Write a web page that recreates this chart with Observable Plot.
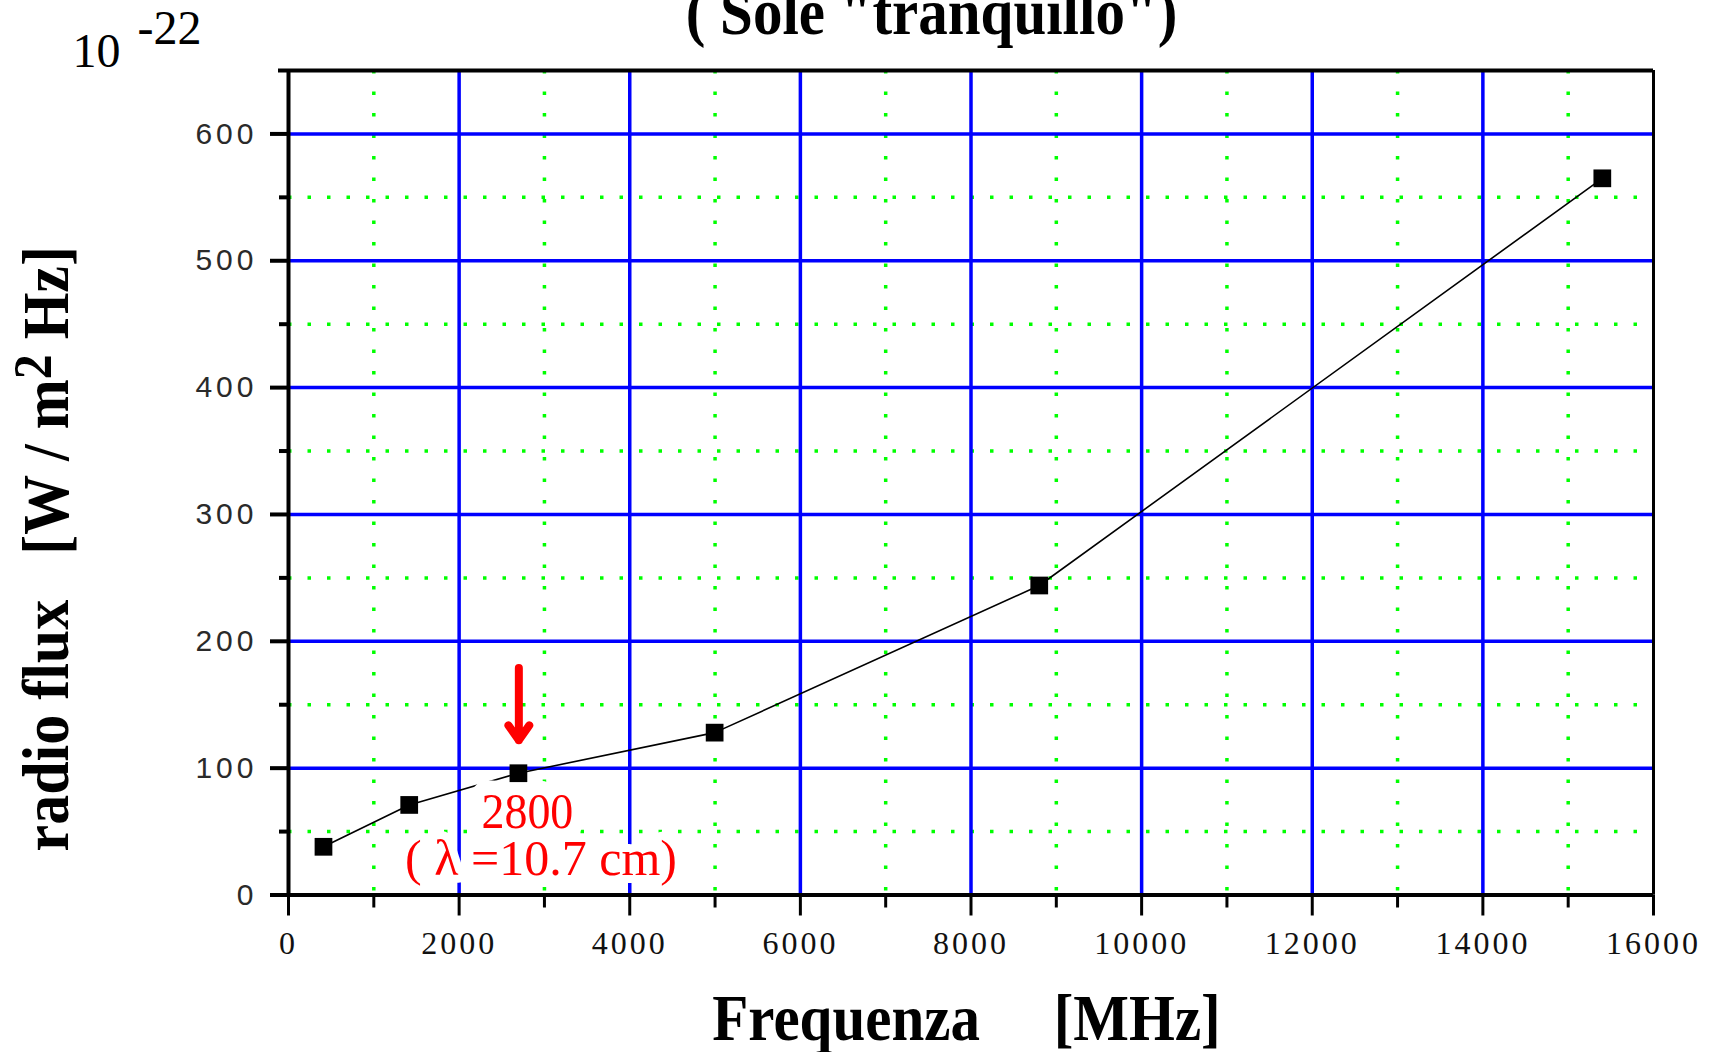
<!DOCTYPE html>
<html>
<head>
<meta charset="utf-8">
<script src="https://cdn.jsdelivr.net/npm/d3@7"></script>
<script src="https://cdn.jsdelivr.net/npm/@observablehq/plot@0.6"></script>
<style>
  html, body { margin: 0; padding: 0; background: #fff; }
  #chart { width: 1721px; height: 1052px; overflow: hidden; }
  #chart svg { display: block; }
  g[aria-label="y-axis tick label"], g[aria-label="y-axis tick label"] text {
    font-family: "Liberation Sans", Arial, sans-serif; font-size: 30px; letter-spacing: 4px; fill: #2a2a2a;
  }
  g[aria-label="x-axis tick label"], g[aria-label="x-axis tick label"] text {
    font-family: "Liberation Serif", "Times New Roman", serif; font-size: 32px; letter-spacing: 3px; fill: #111;
  }
</style>
</head>
<body>
<div id="chart"></div>
<script>
// ---- data ----
const freqMHz = [410, 1415, 2695, 4995, 8800, 15400];
const fluxSFU = [38, 71, 96, 128, 244, 565];

const xDomain = [0, 16000];
const yDomain = [0, 650];
const xMajorTicks = [0, 2000, 4000, 6000, 8000, 10000, 12000, 14000, 16000];
const xMinorTicks = [1000, 3000, 5000, 7000, 9000, 11000, 13000, 15000];
const yMajorTicks = [0, 100, 200, 300, 400, 500, 600];
const yMinorTicks = [50, 150, 250, 350, 450, 550];
const xMajorGrid = [2000, 4000, 6000, 8000, 10000, 12000, 14000];
const yMajorGrid = [100, 200, 300, 400, 500, 600];

const titleText = '( Sole "tranquillo")';
const xTitleText = "Frequenza\u00a0\u00a0\u00a0\u00a0\u00a0[MHz]";
const yTitleParts = ["radio flux\u00a0\u00a0\u00a0[W / m", "2", " Hz]"];
const unitBase = "10";
const unitExp = "-22";

const noteText = ["2800", "( λ =10.7 cm)"];
const noteX = [2800, 2960];
const noteY = [53, 16];
const arrowX = [2700];
const arrowY1 = [179];
const arrowY2 = [122];

// ---- tables built from the arrays ----
const data = freqMHz.map((f, i) => ({f, s: fluxSFU[i]}));
const arrows = arrowX.map((x, i) => ({x, y1: arrowY1[i], y2: arrowY2[i]}));
const note0 = [{x: noteX[0], y: noteY[0], t: noteText[0]}];
const note1 = [{x: noteX[1], y: noteY[1], t: noteText[1]}];
const yTitleText = yTitleParts.join("");

const serif = '"Liberation Serif", "Times New Roman", serif';

const chart = Plot.plot({
  width: 1721,
  height: 1052,
  marginLeft: 288,
  marginRight: 68,
  marginTop: 70,
  marginBottom: 157.5,
  x: {domain: xDomain},
  y: {domain: yDomain},
  style: {fontFamily: serif, background: "white", color: "black"},
  marks: [
    // minor dotted green grid
    Plot.ruleY(yMinorTicks, {stroke: "#00ff00", strokeWidth: 3.5, strokeDasharray: "3.5,16"}),
    Plot.ruleX(xMinorTicks, {stroke: "#00ff00", strokeWidth: 3.5, strokeDasharray: "3.5,18"}),
    // major blue grid
    Plot.ruleY(yMajorGrid, {stroke: "#0000ff", strokeWidth: 3.5}),
    Plot.ruleX(xMajorGrid, {stroke: "#0000ff", strokeWidth: 3.5}),
    // data line
    Plot.line(data, {x: "f", y: "s", stroke: "black", strokeWidth: 1.6}),
    // red annotation with white halo
    Plot.text(note0, {x: "x", y: "y", text: "t", lineAnchor: "bottom", textAnchor: "middle",
      fill: "#ff0000", stroke: "white", strokeWidth: 26, strokeLinejoin: "round",
      fontFamily: serif, fontSize: 46}),
    Plot.text(note1, {x: "x", y: "y", text: "t", lineAnchor: "bottom", textAnchor: "middle",
      fill: "#ff0000", stroke: "white", strokeWidth: 16, strokeLinejoin: "round",
      fontFamily: serif, fontSize: 50}),
    // points
    Plot.dot(data, {x: "f", y: "s", symbol: "square", r: 10, fill: "black", stroke: "none"}),
    // red arrow
    Plot.arrow(arrows, {x1: "x", x2: "x", y1: "y1", y2: "y2", stroke: "#ff0000",
      strokeWidth: 8, headLength: 3.4, headAngle: 70, strokeLinejoin: "miter"}),
    // frame
    Plot.ruleX([xDomain[0]], {stroke: "black", strokeWidth: 4}),
    Plot.ruleX([xDomain[1]], {stroke: "black", strokeWidth: 3}),
    Plot.ruleY([yDomain[0]], {stroke: "black", strokeWidth: 4}),
    Plot.ruleY([yDomain[1]], {stroke: "black", strokeWidth: 4, insetLeft: -10}),
    // axes
    Plot.axisX(xMajorTicks, {tickSize: 21, tickPadding: 15, strokeWidth: 3, label: null,
      tickFormat: d => String(d)}),
    Plot.axisX(xMinorTicks, {tickSize: 13, strokeWidth: 3, label: null, tickFormat: () => ""}),
    Plot.axisY(yMajorTicks, {tickSize: 18, tickPadding: 13, strokeWidth: 4, label: null,
      tickFormat: d => String(d)}),
    Plot.axisY(yMinorTicks, {tickSize: 9, strokeWidth: 4, label: null, tickFormat: () => ""}),
    // titles
    Plot.text([titleText], {frameAnchor: "top", dx: -39.5, dy: -37, lineAnchor: "bottom",
      textAnchor: "middle", fontFamily: serif, fontWeight: "bold", fontSize: 59, fill: "black"}),
    Plot.text([xTitleText], {frameAnchor: "bottom", dx: -4.5, dy: 144.5, lineAnchor: "bottom",
      textAnchor: "middle", fontFamily: serif, fontWeight: "bold", fontSize: 59, fill: "black"}),
    Plot.text([yTitleText], {frameAnchor: "left", dx: -221, dy: 66, rotate: -90,
      lineAnchor: "bottom", textAnchor: "middle", fontFamily: serif, fontWeight: "bold",
      fontSize: 60, fill: "black"}),
    Plot.text([unitBase], {frameAnchor: "top-left", dx: -216, dy: -4, lineAnchor: "bottom",
      textAnchor: "start", fontFamily: serif, fontSize: 48, fill: "black"}),
    Plot.text([unitExp], {frameAnchor: "top-left", dx: -151, dy: -26.5, lineAnchor: "bottom",
      textAnchor: "start", fontFamily: serif, fontSize: 48, fill: "black"})
  ]
});

document.getElementById("chart").appendChild(chart);

const allTexts = Array.from(chart.querySelectorAll("text"));
const findText = s => allTexts.find(t => t.textContent === s);

// taller glyphs, as in the reference
function stretch(t, k) {
  if (!t) return;
  const ax = parseFloat(t.getAttribute("x")) || 0;
  const yAttr = t.getAttribute("y") || "";
  const ay = /em$/.test(yAttr) ? 0 : (parseFloat(yAttr) || 0);
  const tr = t.getAttribute("transform") || "";
  t.setAttribute("transform", `${tr} translate(${ax},${ay}) scale(1,${k}) translate(${-ax},${-ay})`);
}

const yt = findText(yTitleText);
stretch(findText(titleText), 1.1);
stretch(findText(xTitleText), 1.1);
stretch(yt, 1.1);
stretch(findText(noteText[0]), 1.12);

// y title with a raised "2"
if (yt) {
  const ns = "http://www.w3.org/2000/svg";
  while (yt.firstChild) yt.removeChild(yt.firstChild);
  const a = document.createElementNS(ns, "tspan"); a.textContent = yTitleParts[0];
  const b = document.createElementNS(ns, "tspan"); b.textContent = yTitleParts[1];
  b.setAttribute("dy", "-15"); b.setAttribute("font-size", "50");
  const c = document.createElementNS(ns, "tspan"); c.textContent = yTitleParts[2];
  c.setAttribute("dy", "15");
  yt.appendChild(a); yt.appendChild(b); yt.appendChild(c);
}
</script>
</body>
</html>
